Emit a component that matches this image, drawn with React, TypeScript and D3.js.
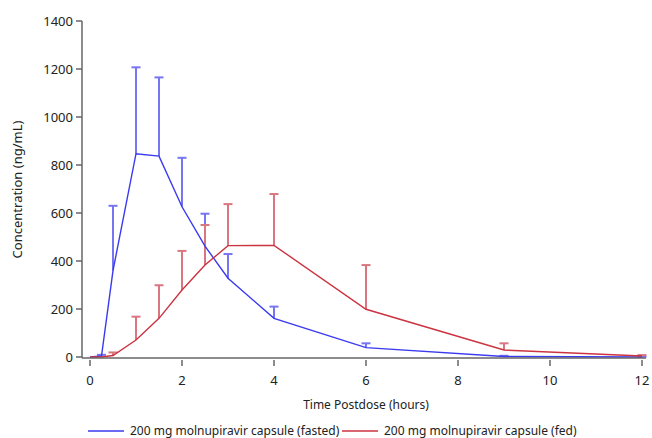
import React from 'react';
import * as d3 from 'd3';

// sampling times (hours)
const times = [0, 0.25, 0.5, 1, 1.5, 2, 2.5, 3, 4, 6, 9, 12];

// mean concentration and mean + SD (ng/mL)
const fastedMean = [0, 4, 360, 847, 837, 626, 462, 328, 161, 39, 2, 0];
const fastedUpper = [0, 9, 630, 1207, 1165, 830, 597, 429, 210, 57, 5, 1];
const fedMean = [0, 0, 6, 71, 161, 279, 383, 464, 465, 199, 29, 4];
const fedUpper = [0, 0, 19, 168, 299, 442, 550, 637, 679, 383, 57, 8];

const xTicks = [0, 2, 4, 6, 8, 10, 12];
const yTicks = [0, 200, 400, 600, 800, 1000, 1200, 1400];

const seriesNames = [
  '200 mg molnupiravir capsule (fasted)',
  '200 mg molnupiravir capsule (fed)',
];

const W = 652;
const H = 438;
const FONT = '"Noto Sans", "Open Sans", sans-serif';

const App = () => {
  const x = d3.scaleLinear().domain([0, 12]).range([90, 642]);
  const y = d3.scaleLinear().domain([0, 1400]).range([357, 21]);
  const axisX = 82;
  const axisY = 358;

  const line = d3
    .line<number>()
    .x((_, i) => x(times[i]))
    .y((d) => y(d));

  const series = [
    { mean: fastedMean, upper: fastedUpper, line: '#3a3af0', err: '#7676f2' },
    { mean: fedMean, upper: fedUpper, line: '#cc3340', err: '#d97680' },
  ];

  return (
    <svg
      width={W}
      height={H}
      style={{ position: 'absolute', left: 0, top: 0, background: '#fff' }}
      fontFamily={FONT}
    >
      {/* error bars (upper only) */}
      {series.map((s, si) => (
        <g key={'err' + si} stroke={s.err} strokeWidth={2} fill="none">
          {times.map((t, i) =>
            s.upper[i] - s.mean[i] > 0.5 ? (
              <g key={i}>
                <line x1={x(t)} x2={x(t)} y1={y(s.mean[i])} y2={y(s.upper[i])} />
                <line x1={x(t) - 4.5} x2={x(t) + 4.5} y1={y(s.upper[i])} y2={y(s.upper[i])} />
              </g>
            ) : null
          )}
        </g>
      ))}

      {/* mean lines */}
      {series.map((s, si) => (
        <path key={'ln' + si} d={line(s.mean) || ''} stroke={s.line} strokeWidth={1.4} fill="none" />
      ))}

      {/* y axis */}
      <g stroke="#666" strokeWidth={1.5}>
        <line x1={axisX} x2={axisX} y1={y(1400)} y2={axisY} />
        {yTicks.map((v) => (
          <line key={v} x1={axisX - 6} x2={axisX} y1={y(v)} y2={y(v)} />
        ))}
      </g>
      <g fontSize={13} fill="#222" textAnchor="end">
        {yTicks.map((v) => (
          <text key={v} x={axisX - 9} y={y(v)} dy="0.35em">
            {v}
          </text>
        ))}
      </g>

      {/* x axis */}
      <g stroke="#666" strokeWidth={1.5}>
        <line x1={axisX} x2={646} y1={axisY} y2={axisY} />
        {xTicks.map((v) => (
          <line key={v} x1={x(v)} x2={x(v)} y1={axisY + 2} y2={axisY + 8} />
        ))}
      </g>
      <g fontSize={13} fill="#222" textAnchor="middle">
        {xTicks.map((v) => (
          <text key={v} x={x(v)} y={385}>
            {v}
          </text>
        ))}
      </g>

      {/* axis titles */}
      <text x={366} y={409} fontSize={12} fill="#222" textAnchor="middle">
        Time Postdose (hours)
      </text>
      <text
        transform={`translate(22,${(y(1400) + axisY) / 2}) rotate(-90)`}
        fontSize={13}
        fill="#222"
        textAnchor="middle"
      >
        Concentration (ng/mL)
      </text>

      {/* legend */}
      <g fontSize={12} fill="#222">
        <line x1={88} x2={124} y1={431} y2={431} stroke={series[0].line} strokeWidth={1.4} />
        <text x={130} y={431} dy="0.35em">{seriesNames[0]}</text>
        <line x1={342} x2={378} y1={431} y2={431} stroke={series[1].line} strokeWidth={1.4} />
        <text x={384} y={431} dy="0.35em">{seriesNames[1]}</text>
      </g>
    </svg>
  );
};

export default App;
